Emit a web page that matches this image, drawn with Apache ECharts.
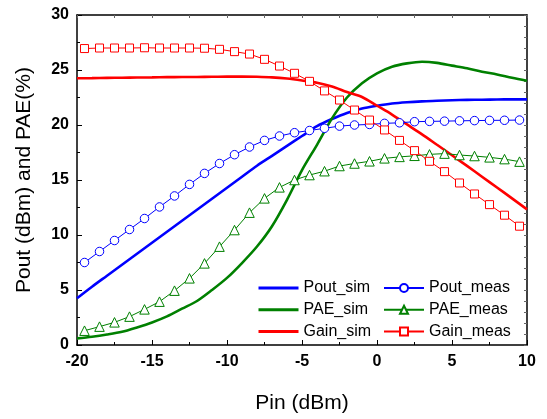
<!doctype html>
<html>
    <head>
        <meta charset="utf-8">
        <title>Pout / PAE / Gain vs Pin</title>
        <style>
            html, body { margin: 0; padding: 0; background: #fff; }
            #main { width: 547px; height: 419px; }
        </style>
    </head>
    <body>
        <div id="main"></div>
        <script src="https://cdn.jsdelivr.net/npm/echarts@6/dist/echarts.min.js"></script>
        <script>
            // simulated sweep, 1 dB steps
            var pinSim = [-20, -19, -18, -17, -16, -15, -14, -13, -12, -11, -10, -9, -8, -7, -6, -5,
                -4, -3, -2, -1, 0, 1, 2, 3, 4, 5, 6, 7, 8, 9, 10];
            var poutSim = [4.25, 5.3, 6.3, 7.3, 8.3, 9.3, 10.3, 11.3, 12.3, 13.3, 14.3, 15.3, 16.3, 17.2, 18.1, 19.0,
                19.9, 20.55, 21.1, 21.5, 21.75, 21.95, 22.07, 22.15, 22.2, 22.25, 22.28, 22.3, 22.32, 22.33, 22.33];
            var paeSim = [0.6, 0.75, 0.95, 1.2, 1.6, 2.05, 2.6, 3.3, 4.0, 5.0, 6.1, 7.45, 8.95, 10.8, 13.2, 15.9,
                18.2, 20.6, 22.5, 23.8, 24.7, 25.3, 25.6, 25.75, 25.65, 25.4, 25.15, 24.85, 24.6, 24.3, 24.03];
            var gainSim = [24.25, 24.26, 24.28, 24.3, 24.32, 24.33, 24.35, 24.36, 24.37, 24.38, 24.4, 24.4, 24.38, 24.33, 24.22, 24.05,
                23.85, 23.5, 23.0, 22.55, 21.75, 20.95, 20.05, 19.15, 18.2, 17.25, 16.28, 15.3, 14.32, 13.33, 12.33];

            // measured points
            var pinMeas = [-19.5, -18.5, -17.5, -16.5, -15.5, -14.5, -13.5, -12.5, -11.5, -10.5, -9.5, -8.5, -7.5, -6.5, -5.5,
                -4.5, -3.5, -2.5, -1.5, -0.5, 0.5, 1.5, 2.5, 3.5, 4.5, 5.5, 6.5, 7.5, 8.5, 9.5];
            var poutMeas = [7.5, 8.5, 9.5, 10.5, 11.5, 12.55, 13.55, 14.6, 15.6, 16.5, 17.3, 18.0, 18.6, 19.0, 19.3,
                19.5, 19.7, 19.9, 20.0, 20.05, 20.15, 20.2, 20.3, 20.33, 20.35, 20.38, 20.4, 20.42, 20.43, 20.45];
            var paeMeas = [1.3, 1.67, 2.06, 2.58, 3.24, 3.94, 4.94, 6.06, 7.42, 8.94, 10.45, 12.03, 13.33, 14.33, 15.0,
                15.45, 15.8, 16.27, 16.5, 16.7, 16.97, 17.1, 17.2, 17.33, 17.4, 17.27, 17.18, 17.06, 16.9, 16.67];
            var gainMeas = [26.95, 27.0, 27.0, 27.0, 27.02, 27.0, 27.0, 27.0, 26.98, 26.88, 26.67, 26.45, 25.97, 25.36, 24.7,
                23.97, 23.1, 22.27, 21.36, 20.45, 19.55, 18.6, 17.67, 16.7, 15.76, 14.73, 13.73, 12.76, 11.8, 10.8];

            var BLUE = '#0000ff', GREEN = '#008000', RED = '#ff0000';
            var FONT = 'Arial, "Liberation Sans", sans-serif';

            function zip(xs, ys) {
                return xs.map(function (x, i) { return [x, ys[i]]; });
            }

            function simLine(name, color, ys) {
                return {
                    name: name, type: 'line', xAxisIndex: 0, yAxisIndex: 0,
                    data: zip(pinSim, ys), smooth: 0.3, symbol: 'none',
                    color: color,
                    lineStyle: { color: color, width: 2.6 },
                    z: 2
                };
            }

            // hollow markers: white fill, thin coloured outline
            function measLine(name, color, ys, symbol, size) {
                return {
                    name: name, type: 'line', xAxisIndex: 0, yAxisIndex: 0,
                    data: zip(pinMeas, ys), symbol: symbol, symbolSize: size,
                    showAllSymbol: true,
                    color: color,
                    lineStyle: { color: color, width: 1 },
                    itemStyle: { color: '#fff', borderColor: color, borderWidth: 1 },
                    z: 3
                };
            }

            // legend entry for a plain line, no marker
            function plainItem(name) {
                return { name: name, itemStyle: { opacity: 0 } };
            }

            var chart = echarts.init(document.getElementById('main'));

            var axisCommon = {
                type: 'value',
                axisLine: { show: true, onZero: false, lineStyle: { color: '#000', width: 1.5 } },
                axisTick: { show: true, inside: true, length: 5, lineStyle: { color: '#000', width: 1 } },
                minorTick: { show: true, splitNumber: 2, length: 3, lineStyle: { color: '#000', width: 1 } },
                splitLine: { show: false },
                minorSplitLine: { show: false }
            };

            chart.setOption({
                animation: false,
                backgroundColor: '#fff',
                grid: { left: 77, right: 20, top: 15, bottom: 74, containLabel: false },
                xAxis: [
                    Object.assign({}, axisCommon, {
                        position: 'bottom', min: -20, max: 10, interval: 5,
                        name: 'Pin (dBm)', nameLocation: 'middle', nameGap: 48,
                        nameTextStyle: { fontFamily: FONT, fontSize: 21, color: '#000' },
                        axisLabel: { margin: 9, fontFamily: FONT, fontSize: 16, fontWeight: 'bold', color: '#000' }
                    }),
                    Object.assign({}, axisCommon, {
                        position: 'top', min: -20, max: 10, interval: 5,
                        axisTick: { show: true, inside: true, length: 3, lineStyle: { color: '#666', width: 1 } },
                        minorTick: { show: true, splitNumber: 2, length: 3, lineStyle: { color: '#666', width: 1 } },
                        axisLabel: { show: false }
                    })
                ],
                yAxis: [
                    Object.assign({}, axisCommon, {
                        position: 'left', min: 0, max: 30, interval: 5,
                        name: 'Pout (dBm) and PAE(%)', nameLocation: 'middle', nameGap: 42,
                        nameTextStyle: { fontFamily: FONT, fontSize: 21, color: '#000' },
                        axisLabel: { margin: 8, fontFamily: FONT, fontSize: 16, fontWeight: 'bold', color: '#000' }
                    }),
                    Object.assign({}, axisCommon, {
                        position: 'right', min: 0, max: 30, interval: 5,
                        axisTick: { show: true, inside: true, length: 3, lineStyle: { color: '#666', width: 1 } },
                        minorTick: { show: true, splitNumber: 5, length: 3, lineStyle: { color: '#666', width: 1 } },
                        axisLabel: { show: false }
                    })
                ],
                legend: [
                    {
                        data: [plainItem('Pout_sim'), plainItem('PAE_sim'), plainItem('Gain_sim')],
                        orient: 'vertical', left: 252, top: 275,
                        itemWidth: 40, itemHeight: 10, itemGap: 5.7,
                        lineStyle: { width: 3 },
                        textStyle: { fontFamily: FONT, fontSize: 16, lineHeight: 16, color: '#000' }
                    },
                    {
                        data: ['Pout_meas', 'PAE_meas', 'Gain_meas'],
                        orient: 'vertical', left: 378, top: 275,
                        itemWidth: 40, itemHeight: 10, itemGap: 5.7,
                        lineStyle: { width: 2 },
                        textStyle: { fontFamily: FONT, fontSize: 16, lineHeight: 16, color: '#000' }
                    }
                ],
                series: [
                    simLine('Pout_sim', BLUE, poutSim),
                    simLine('PAE_sim', GREEN, paeSim),
                    simLine('Gain_sim', RED, gainSim),
                    measLine('Pout_meas', BLUE, poutMeas, 'circle', 8.5),
                    measLine('PAE_meas', GREEN, paeMeas, 'triangle', 9.5),
                    measLine('Gain_meas', RED, gainMeas, 'rect', 8)
                ]
            });

            window.onresize = chart.resize;
        </script>
    </body>
</html>
